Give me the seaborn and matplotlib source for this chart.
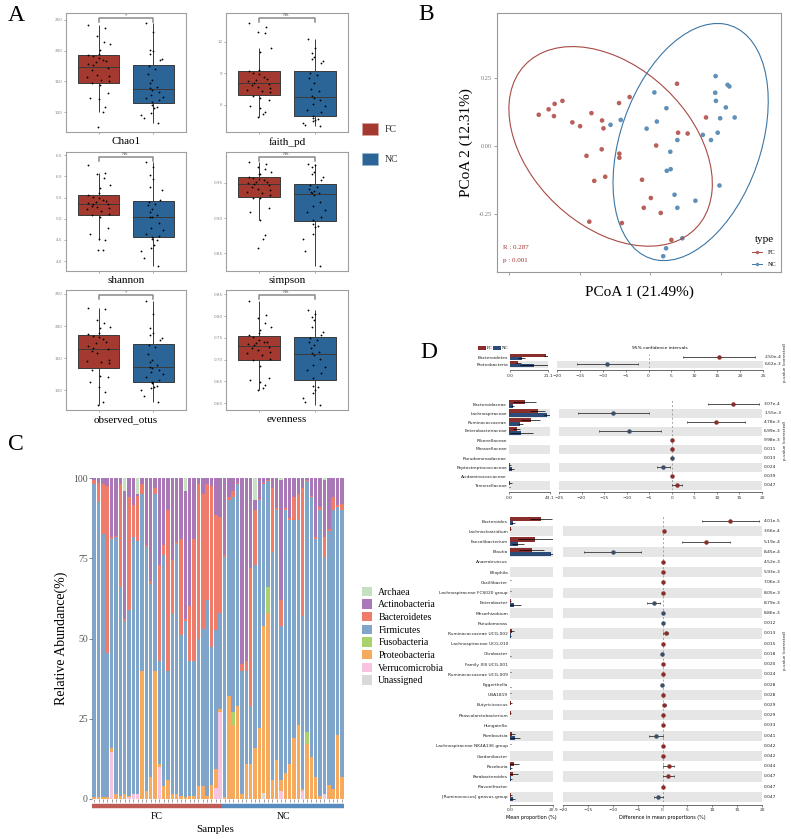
import numpy as np
import pandas as pd
import matplotlib
matplotlib.use("Agg")
import matplotlib.pyplot as plt
import seaborn as sns
from matplotlib.patches import Rectangle, Ellipse, Patch
from matplotlib.lines import Line2D
from matplotlib.ticker import FormatStrFormatter

W, H = 791, 839
SERIF = "Liberation Serif"
SANS = "DejaVu Sans"

chao1_fc = [240.9, 236.0, 223.1, 214.5, 210.8, 200.5, 195.2, 193.5, 191.4, 188.7, 185.5, 182.8, 181.7, 179.0, 176.3,
            172.0, 168.8, 160.2, 158.1, 156.5, 152.2, 150.0, 147.8, 144.1, 131.7, 123.7, 121.5, 109.1, 101.1, 76.9]
chao1_nc = [244.6, 230.1, 200.5, 199.5, 195.2, 187.1, 184.4, 174.7, 169.9, 161.8, 152.2, 146.8, 140.3, 138.7,
            136.0, 133.3, 128.0, 125.3, 122.6, 119.9, 117.2, 111.8, 109.1, 106.5, 98.4, 95.7, 90.3, 82.3]
faith_fc = [13.8, 13.42, 12.95, 12.79, 11.43, 11.05, 9.32, 9.26, 9.07, 8.94, 8.69, 8.44, 8.37, 8.28, 8.12,
            7.99, 7.90, 7.74, 7.58, 7.43, 7.36, 7.27, 6.86, 6.67, 6.48, 5.91, 5.69, 5.28, 5.15, 4.84]
faith_nc = [12.22, 11.43, 10.9, 10.58, 10.33, 10.17, 9.95, 9.0, 8.85, 8.53, 8.12, 7.49, 7.36, 6.86, 6.70, 6.48,
            6.07, 5.85, 5.53, 5.31, 4.97, 4.74, 4.65, 4.52, 4.43, 4.27, 4.11, 3.96]
shannon_fc = [6.28, 6.09, 6.07, 5.97, 5.79, 5.73, 5.62, 5.56, 5.52, 5.48, 5.44, 5.42, 5.39, 5.38, 5.36, 5.34, 5.31,
              5.28, 5.26, 5.23, 5.19, 5.12, 5.08, 5.05, 4.77, 4.63, 4.52, 4.50, 4.26, 4.25]
shannon_nc = [6.34, 6.22, 6.03, 5.93, 5.75, 5.67, 5.44, 5.40, 5.36, 5.32, 5.24, 5.16, 5.08, 5.05, 5.03, 4.89,
              4.77, 4.73, 4.65, 4.60, 4.57, 4.53, 4.50, 4.38, 4.30, 4.24, 4.06, 3.89]
simpson_fc = [0.980, 0.977, 0.973, 0.970, 0.966, 0.963, 0.962, 0.959, 0.957, 0.955, 0.954, 0.952, 0.951, 0.950,
              0.949, 0.947, 0.944, 0.942, 0.940, 0.937, 0.935, 0.933, 0.929, 0.928, 0.915, 0.909, 0.897, 0.876,
              0.871, 0.858]
simpson_nc = [0.977, 0.975, 0.972, 0.966, 0.963, 0.958, 0.954, 0.947, 0.944, 0.941, 0.938, 0.937, 0.936, 0.935,
              0.933, 0.923, 0.917, 0.911, 0.909, 0.902, 0.898, 0.892, 0.889, 0.887, 0.877, 0.871, 0.853, 0.832]
otus_fc = [228.7, 226.1, 209.5, 205.4, 199.1, 197.6, 189.8, 187.2, 184.6, 182.5, 179.4, 175.8, 173.2, 169.0, 165.4,
           163.9, 161.3, 158.7, 147.2, 146.2, 144.7, 143.1, 131.7, 122.3, 120.3, 113.5, 105.7, 98.0, 82.4, 77.2]
otus_nc = [239.6, 218.3, 196.5, 189.8, 186.2, 181.0, 178.4, 170.6, 168.0, 156.6, 147.3, 144.7, 139.5, 136.9, 134.3,
           131.7, 129.1, 124.9, 121.3, 116.1, 113.5, 110.9, 106.8, 104.7, 103.1, 100.5, 91.2, 81.3]
even_fc = [0.835, 0.802, 0.795, 0.785, 0.776, 0.769, 0.760, 0.756, 0.753, 0.746, 0.741, 0.740, 0.737, 0.735, 0.733,
           0.730, 0.726, 0.722, 0.718, 0.714, 0.710, 0.701, 0.699, 0.685, 0.658, 0.653, 0.648, 0.641, 0.634, 0.630]
even_nc = [0.814, 0.804, 0.799, 0.792, 0.776, 0.764, 0.756, 0.749, 0.745, 0.741, 0.733, 0.726, 0.718, 0.716, 0.710,
           0.701, 0.687, 0.682, 0.676, 0.668, 0.657, 0.639, 0.636, 0.630, 0.622, 0.611, 0.603, 0.595]

# ---------------- B: PCoA ----------------
fc_pc1 = [-0.316, -0.288, -0.271, -0.273, -0.249, -0.221, -0.199, -0.167, -0.137, -0.133, -0.181, -0.138, -0.159,
          -0.128, -0.089, -0.059, -0.088, -0.088, -0.081, -0.173, -0.024, -0.019, 0.001, 0.016, 0.029, 0.075, 0.078,
          0.105, 0.157, 0.059]
fc_pc2 = [0.115, 0.135, 0.155, 0.110, 0.166, 0.087, 0.073, 0.121, 0.094, 0.065, -0.036, -0.012, -0.128, -0.113,
          0.158, 0.180, -0.028, -0.043, -0.283, -0.278, -0.124, -0.227, -0.191, 0.002, -0.246, 0.229, 0.049, 0.046,
          0.105, -0.345]
nc_pc1 = [-0.113, -0.084, 0.011, -0.011, 0.018, 0.045, 0.056, 0.076, 0.046, 0.057, 0.068, 0.076, 0.127, 0.148, 0.171,
          0.190, 0.184, 0.183, 0.185, 0.213, 0.197, 0.238, 0.218, 0.223, 0.195, 0.090, 0.044, 0.036]
nc_pc2 = [0.078, 0.096, 0.197, 0.064, 0.090, 0.139, -0.021, 0.022, -0.091, -0.085, -0.179, -0.227, -0.201, 0.041,
          0.022, 0.049, 0.257, 0.196, 0.166, 0.142, 0.102, 0.105, 0.225, 0.219, -0.145, -0.339, -0.376, -0.405]

# ---------------- C: phylum composition, 30 FC + 28 NC samples ----------------
phyla = ["Archaea", "Actinobacteria", "Bacteroidetes", "Firmicutes", "Fusobacteria",
         "Proteobacteria", "Verrucomicrobia", "Unassigned"]
archaea = [0, 0, 0, 0, 0, 0, 0, 4, 0, 0, 5, 0, 0, 0, 0, 0, 0, 0, 0, 0, 0, 4, 0, 0, 0, 0, 0, 0, 0, 0,
           0, 0, 0, 0, 0, 0, 0, 7, 0, 0, 0, 0, 0, 0.5, 0, 0, 0, 0, 0, 0, 0, 0, 0, 0.5, 0, 0, 0, 0]
actinobacteria = [0.5, 1.5, 2, 2.5, 18.5, 18, 2, 40, 6, 8.5, 0.5, 2, 21, 32, 3, 27, 21, 10, 25.5, 20, 19, 40, 40,
                  19, 2, 5, 2, 2.5, 11.5, 12,
                  24, 6, 4, 1.5, 58, 57, 28, 3, 6.5, 1.5, 0.5, 3, 9.5, 37.5, 9.5, 12.5, 6, 5, 3, 0.5, 5.5, 18.5,
                  9, 18, 16, 6, 8.5, 8]
bacteroidetes = [1.5, 6, 15.5, 52, 0.5, 0.5, 32, 0.5, 35, 10, 14, 3, 0.5, 1, 2, 30, 3, 50, 17, 0.5, 30, 0.5, 17,
                 38, 48, 42, 36, 50, 36, 30,
                 0.5, 1, 2, 0.5, 2, 3, 43, 17, 0.5, 0.5, 0.5, 20, 0.5, 8, 0.5, 0.5, 7, 8, 40, 0.5, 0.5, 0.5, 1, 6,
                 0.5, 4, 0.5, 2]
firmicutes = [97.5, 92, 82, 45, 65, 80, 65, 54, 58, 80, 79, 55, 76, 60, 55, 32, 72, 34, 56, 78, 50, 55, 42, 42, 46,
              49, 61, 43, 43, 30,
              75, 61, 67, 69, 38.5, 29, 18, 57, 71, 44, 33, 71, 78, 48, 82, 76, 68, 64, 54, 78, 81, 74, 89, 74, 79,
              87, 71, 83]
fusobacteria = [0, 0, 0, 0, 0, 0, 0, 0, 0, 0, 0, 0, 0, 0, 0, 0, 0, 0, 0, 0, 0, 0, 0, 0, 0, 0, 0, 0, 0, 0,
                0, 0, 4, 0, 0, 0, 0, 0, 0, 0, 8, 0, 0, 0, 0, 0, 0, 0, 0, 4, 0, 0, 0, 0, 0, 0, 0, 0]
proteobacteria = [0.5, 0.5, 0.5, 0.5, 1.5, 1.5, 1, 1.5, 0.5, 0, 0, 40, 2.5, 7, 40, 1, 4, 6, 1.5, 1.5, 1, 0.5, 1, 1,
                  4, 4, 1, 4.5, 6, 1,
                  0.5, 32, 23, 29, 1.5, 11, 11, 16, 22, 52, 58, 6, 12, 3.5, 8, 11, 19, 23, 0.5, 17, 13, 7, 1, 0,
                  4.5, 3, 20, 7]
verrucomicrobia = [0, 0, 0, 0, 14.5, 0, 0, 0, 0.5, 1.5, 1.5, 0, 0, 0, 0, 10, 0, 0, 0, 0, 0, 0, 0, 0, 0, 0, 0, 0,
                   3.5, 27,
                   0, 0, 0, 0, 0, 0, 0, 0, 0, 0, 0, 0, 0, 2.5, 0, 0, 0, 0, 2.5, 0, 0, 0, 0, 1.5, 0, 0, 0, 0]
unassigned = [0, 0, 0, 0, 0, 0, 0, 0, 0, 0, 0, 0, 0, 0, 0, 0, 0, 0, 0, 0, 0, 0, 0, 0, 0, 0, 0, 0, 0, 0,
              0, 0, 0, 0, 0, 0, 0, 0, 0, 2, 0, 0, 0, 0, 0, 0, 0, 0, 0, 0, 0, 0, 0, 0, 0, 0, 0, 0]
n_fc, n_nc = 30, 28

# ---------------- D: STAMP extended error bars ----------------
phy_names = ["Bacteroidetes", "Proteobacteria"]
phy_fc = [19.9, 4.7]
phy_fc_sd = [1.2, 1.5]
phy_nc = [6.4, 13.3]
phy_nc_sd = [2.0, 7.8]
phy_diff = [15.4, -9.1]
phy_lo = [7.5, -15.7]
phy_hi = [23.3, -2.4]
phy_p = ["2.50e-4", "6.62e-3"]

fam_names = ["Bacteroidaceae", "Lachnospiraceae", "Ruminococcaceae", "Enterobacteriaceae", "Rikenellaceae",
             "Moraxellaceae", "Pseudomonadaceae", "Peptostreptococcaceae", "Acidaminococcaceae", "Tannerellaceae"]
fam_fc = [16.6, 30.2, 23.0, 8.0, 0.2, 0.1, 0.05, 1.0, 0.2, 1.2]
fam_fc_sd = [12.0, 8.0, 10.0, 4.0, 0.1, 0.1, 0.05, 0.8, 0.1, 1.5]
fam_nc = [4.0, 40.0, 12.0, 13.0, 0.05, 0.02, 0.1, 3.0, 0.05, 0.5]
fam_nc_sd = [1.5, 3.0, 3.0, 12.0, 0.05, 0.02, 0.1, 2.5, 0.05, 0.5]
fam_diff = [13.6, -13.0, 9.8, -9.4, 0.05, 0.05, -0.05, -1.85, 0.1, 1.1]
fam_lo = [8.1, -20.8, 3.3, -16.1, 0.0, 0.0, -0.1, -3.3, 0.0, 0.0]
fam_hi = [19.3, -5.1, 16.3, -2.5, 0.1, 0.1, 0.0, -0.3, 0.2, 2.2]
fam_p = ["3.07e-4", "1.55e-3", "4.78e-3", "6.99e-3", "9.98e-3", "0.011", "0.013", "0.024", "0.039", "0.047"]

gen_names = ["Bacteroides", "Lachnoclostridium", "Faecalibacterium", "Blautia", "Anaerotruncus", "Bilophila",
             "Oscillibacter", "Lachnospiraceae FCS020 group", "Enterobacter", "Mesorhizobium", "Pseudomonas",
             "Ruminococcaceae UCG-002", "Lachnospiraceae UCG-010", "Citrobacter", "Family XIII UCG-001",
             "Ruminococcaceae UCG-009", "Eggerthella", "UBA1819", "Butyricicoccus", "Phascolarctobacterium",
             "Hungatella", "Romboutsia", "Lachnospiraceae NK4A136 group", "Gordonibacter", "Roseburia",
             "Parabacteroides", "Flavonifractor", "[Ruminococcus] gnavus group"]
gen_fc = [15.0, 0.4, 12.2, 10.6, 0.1, 0.1, 0.2, 0.2, 0.3, 0.02, 0.02, 1.0, 0.1, 0.1, 0.1, 0.2, 0.05, 0.2, 0.5,
          0.3, 0.1, 1.2, 0.2, 0.05, 1.8, 1.7, 0.1, 0.4]
gen_fc_sd = [5.5, 0.3, 8.5, 6.0, 0.1, 0.1, 0.2, 0.2, 0.3, 0.02, 0.02, 0.8, 0.1, 0.1, 0.1, 0.2, 0.05, 0.2, 0.4,
             0.3, 0.1, 1.0, 0.2, 0.05, 2.5, 2.3, 0.1, 0.4]
gen_nc = [1.6, 0.1, 4.0, 20.1, 0.05, 0.05, 0.1, 0.1, 1.9, 0.05, 0.05, 0.4, 0.05, 0.2, 0.05, 0.1, 0.2, 0.1, 0.1,
          0.1, 0.05, 2.6, 0.05, 0.02, 0.5, 0.5, 0.05, 1.4]
gen_nc_sd = [1.0, 0.1, 3.0, 0.7, 0.05, 0.05, 0.1, 0.1, 3.3, 0.05, 0.05, 0.3, 0.05, 0.2, 0.05, 0.1, 0.2, 0.1, 0.1,
             0.1, 0.05, 2.5, 0.05, 0.02, 0.5, 0.5, 0.05, 1.2]
gen_diff = [13.6, 0.3, 8.8, -10.0, 0.05, 0.05, 0.1, 0.1, -1.8, 0.0, 0.0, 0.65, 0.05, -0.1, 0.05, 0.1, -0.2, 0.1,
            0.4, 0.2, 0.1, -1.35, 0.15, 0.05, 1.3, 1.2, 0.1, -0.9]
gen_lo = [7.9, 0.1, 4.0, -15.7, 0.0, 0.0, 0.0, 0.0, -3.2, -0.05, -0.05, 0.2, 0.0, -0.2, 0.0, 0.0, -0.35, 0.0, 0.1,
          0.05, 0.0, -2.7, 0.05, 0.0, 0.05, 0.05, 0.0, -1.8]
gen_hi = [19.3, 0.5, 13.5, -4.4, 0.1, 0.1, 0.2, 0.2, -0.6, 0.05, 0.05, 1.2, 0.1, 0.0, 0.1, 0.2, -0.05, 0.2, 0.7,
          0.35, 0.2, 0.0, 0.25, 0.1, 2.35, 2.3, 0.2, 0.0]
gen_p = ["4.01e-5", "3.66e-4", "5.19e-4", "8.45e-4", "4.52e-3", "5.93e-3", "7.06e-3", "8.05e-3", "8.79e-3",
         "8.86e-3", "0.012", "0.013", "0.015", "0.018", "0.020", "0.024", "0.028", "0.028", "0.029", "0.029",
         "0.033", "0.041", "0.042", "0.042", "0.044", "0.047", "0.047", "0.047"]

BOX_PAL = {"FC": "#A3392F", "NC": "#2B6496"}
PT_PAL = {"FC": "#B8615A", "NC": "#5E90BA"}
ELL_COL = {"FC": "#A84A43", "NC": "#3B76A5"}
PHY_COL = {"Archaea": "#C5E1C2", "Actinobacteria": "#AB78B7", "Bacteroidetes": "#EF7B6B",
           "Firmicutes": "#7FA6CA", "Fusobacteria": "#A9D16C", "Proteobacteria": "#F5AA5E",
           "Verrucomicrobia": "#F6C4DE", "Unassigned": "#D9D9D9"}
STAMP_PAL = {"FC": "#8A2E2C", "NC": "#2B4B78"}


def px(x0, y0, x1, y1):
    return [x0 / W, 1 - y1 / H, (x1 - x0) / W, (y1 - y0) / H]


def cov_trob(X, nu=5, iters=100):
    # multivariate-t robust location/scatter (as stat_ellipse uses)
    n, p = X.shape
    wt = np.ones(n)
    loc = X.mean(axis=0)
    for _ in range(iters):
        Xc = X - loc
        cov = (wt[:, None] * Xc).T @ Xc / n
        d2 = np.einsum("ij,jk,ik->i", Xc, np.linalg.inv(cov), Xc)
        wt = (nu + p) / (nu + d2)
        loc = (wt[:, None] * X).sum(axis=0) / wt.sum()
    Xc = X - loc
    cov = (wt[:, None] * Xc).T @ Xc / n
    return loc, cov


fig = plt.figure(figsize=(W / 100, H / 100), dpi=100)


# ---- panel A ----
def alpha_box(box, fc, nc, name, ylim, ticks, fmt, sig):
    ax = fig.add_axes(px(*box))
    df = pd.DataFrame({"group": ["FC"] * len(fc) + ["NC"] * len(nc), "value": fc + nc})
    sns.boxplot(data=df, x="group", y="value", hue="group", palette=BOX_PAL, width=0.76, saturation=1,
                linecolor="#3a3a3a", linewidth=0.7, showfliers=False, showcaps=False, legend=False, ax=ax)
    np.random.seed(7)
    sns.stripplot(data=df, x="group", y="value", color="black", size=1.3, jitter=0.22, ax=ax, zorder=3)
    ax.set_xlim(-0.594, 1.594)
    ax.set_ylim(*ylim)
    span = ylim[1] - ylim[0]
    yb = ylim[1] - 0.04 * span
    ax.plot([0, 0, 1, 1], [yb - 0.035 * span, yb, yb, yb - 0.035 * span], color="#8a8a8a", lw=1.1)
    ax.text(0.5, yb + 0.004 * span, sig, ha="center", va="bottom", fontsize=3.5, family=SERIF, color="#555")
    ax.set_yticks(ticks)
    ax.yaxis.set_major_formatter(FormatStrFormatter(fmt))
    ax.set_xticks([0, 1])
    ax.set_xticklabels([])
    ax.tick_params(labelsize=3, colors="#888", length=1.5, width=0.5, pad=1)
    ax.set_ylabel("")
    ax.set_xlabel(name, fontsize=8, family=SERIF, labelpad=1)
    for s in ax.spines.values():
        s.set_color("#a0a0a0")
        s.set_linewidth(0.8)


alpha_box((66, 13, 186, 132), chao1_fc, chao1_nc, "Chao1", (68.3, 260.8), [100, 150, 200, 250], "%d", "*")
alpha_box((226, 13, 348, 132), faith_fc, faith_nc, "faith_pd", (3.42, 14.74), [6, 9, 12], "%d", "NS.")
alpha_box((66, 152, 186, 271), shannon_fc, shannon_nc, "shannon", (3.764, 6.579),
          [4.0, 4.5, 5.0, 5.5, 6.0, 6.5], "%.1f", "NS.")
alpha_box((226, 152, 348, 271), simpson_fc, simpson_nc, "simpson", (0.825, 0.9939),
          [0.85, 0.90, 0.95], "%.2f", "NS.")
alpha_box((66, 290, 186, 410), otus_fc, otus_nc, "observed_otus", (69.4, 256.2), [100, 150, 200, 250], "%d", "*")
alpha_box((226, 290, 348, 410), even_fc, even_nc, "evenness", (0.584, 0.860),
          [0.60, 0.65, 0.70, 0.75, 0.80, 0.85], "%.2f", "NS.")

for (y0, grp) in [(123, "FC"), (153, "NC")]:
    fig.patches.append(Rectangle((362 / W, 1 - (y0 + 12) / H), 16 / W, 12 / H, transform=fig.transFigure,
                                 facecolor=BOX_PAL[grp], edgecolor="#d9a39e" if grp == "FC" else "#9ab7d1",
                                 lw=0.6))
    fig.text(385 / W, 1 - (y0 + 6) / H, grp, fontsize=7, family=SERIF, va="center", color="#333")

# ---- panel B ----
axB = fig.add_axes(px(497, 13, 781, 272))
dfB = pd.DataFrame({"pc1": fc_pc1 + nc_pc1, "pc2": fc_pc2 + nc_pc2,
                    "type": ["FC"] * len(fc_pc1) + ["NC"] * len(nc_pc1)})
sns.scatterplot(data=dfB, x="pc1", y="pc2", hue="type", palette=PT_PAL, s=11, linewidth=0, legend=False, ax=axB)
# 95% t-ellipses, scale sqrt(2 * F(0.95; 2, n-1))
for grp, r in [("FC", 2.580), ("NC", 2.590)]:
    sub = dfB[dfB["type"] == grp][["pc1", "pc2"]].to_numpy()
    mu, cov = cov_trob(sub)
    vals, vecs = np.linalg.eigh(cov)
    ang = np.degrees(np.arctan2(vecs[1, 1], vecs[0, 1]))
    axB.add_patch(Ellipse(mu, 2 * r * np.sqrt(vals[1]), 2 * r * np.sqrt(vals[0]), angle=ang,
                          fill=False, edgecolor=ELL_COL[grp], lw=0.8))
axB.set_xlim(-0.434, 0.369)
axB.set_ylim(-0.463, 0.489)
axB.set_xticks([-0.4, -0.2, 0.0, 0.2])
axB.set_xticklabels([])
axB.set_yticks([-0.25, 0.0, 0.25])
axB.set_yticklabels(["-0.25", "0.00", "0.25"], family=SERIF)
axB.tick_params(labelsize=4.5, colors="#777", length=2, width=0.5, pad=2)
axB.set_xlabel("PCoA 1 (21.49%)", fontsize=11, family=SERIF, labelpad=6)
axB.set_ylabel("PCoA 2 (12.31%)", fontsize=11, family=SERIF, labelpad=4)
for s in axB.spines.values():
    s.set_color("#999")
    s.set_linewidth(0.8)
axB.text(0.02, 0.09, "R : 0.287", transform=axB.transAxes, fontsize=5, family=SERIF, color="#A0342E")
axB.text(0.02, 0.04, "p : 0.001", transform=axB.transAxes, fontsize=5, family=SERIF, color="#A0342E")
handles = [Line2D([0], [0], color=ELL_COL[g], marker="o", ms=2.5, lw=0.7, markerfacecolor=PT_PAL[g],
                  markeredgewidth=0) for g in ["FC", "NC"]]
legB = axB.legend(handles, ["FC", "NC"], title="type", loc="lower right", frameon=False,
                  prop={"family": SERIF, "size": 4.5}, handlelength=1.6, borderaxespad=0.4, labelspacing=1.0)
legB.get_title().set_fontsize(8)
legB.get_title().set_family(SERIF)

# ---- panel C ----
axC = fig.add_axes(px(92, 478, 344, 799))
sample_ids = [f"FC{i + 1}" for i in range(n_fc)] + [f"NC{i + 1}" for i in range(n_nc)]
ab = np.array([archaea, actinobacteria, bacteroidetes, firmicutes, fusobacteria, proteobacteria,
               verrucomicrobia, unassigned], dtype=float)
ab = ab / ab.sum(axis=0) * 100
cum = np.cumsum(ab[::-1], axis=0)[::-1]  # top edge of each layer
for k, name in enumerate(phyla):
    sns.barplot(x=sample_ids, y=cum[k], order=sample_ids, color=PHY_COL[name], width=0.8, saturation=1,
                linewidth=0, errorbar=None, ax=axC)
axC.set_xlim(-0.5, len(sample_ids) - 0.5)
axC.set_ylim(0, 100)
axC.set_yticks([0, 25, 50, 75, 100])
axC.set_yticklabels(["0", "25", "50", "75", "100"], family=SERIF)
axC.set_xticks(range(len(sample_ids)))
axC.set_xticklabels([])
axC.tick_params(axis="y", labelsize=7, colors="#555", length=2, width=0.5, pad=1)
axC.tick_params(axis="x", colors="#555", length=2, width=0.4)
for s in axC.spines.values():
    s.set_visible(False)
axC.set_ylabel("Relative Abundance(%)", fontsize=10, family=SERIF, labelpad=4)
axC.set_xlabel("")
tr = axC.get_xaxis_transform()
axC.plot([-0.5, n_fc - 0.5], [-0.022, -0.022], transform=tr, color="#BE5B55", lw=3.2, clip_on=False,
         solid_capstyle="butt")
axC.plot([n_fc - 0.5, n_fc + n_nc - 0.5], [-0.022, -0.022], transform=tr, color="#5A8BBE", lw=3.2,
         clip_on=False, solid_capstyle="butt")
axC.text((n_fc - 1) / 2, -0.056, "FC", transform=tr, ha="center", va="center", fontsize=7, family=SERIF)
axC.text(n_fc + (n_nc - 1) / 2, -0.056, "NC", transform=tr, ha="center", va="center", fontsize=7, family=SERIF)
fig.text(215 / W, 1 - 829 / H, "Samples", ha="center", va="center", fontsize=8, family=SERIF)
fig.legend([Patch(facecolor=PHY_COL[p], edgecolor="none") for p in phyla], phyla, loc="center left",
           bbox_to_anchor=(353 / W, 1 - 636 / H), frameon=False, prop={"family": SERIF, "size": 7},
           handlelength=1.1, handleheight=1.1, handletextpad=0.6, labelspacing=0.28)


# ---- panel D ----
def stamp(names, fc, fc_sd, nc, nc_sd, diff, lo, hi, pvals, left, mid, y0, y1, lmax, mlim, ptxt_y,
          xlabels=False):
    n = len(names)
    rows = np.arange(n)
    axL = fig.add_axes(px(left[0], y0, left[1], y1))
    axM = fig.add_axes(px(mid[0], y0, mid[1], y1))
    for ax in (axL, axM):
        for i in range(1, n, 2):
            ax.axhspan(i - 0.5, i + 0.5, color="#e6e6e6", lw=0, zorder=0)
    df = pd.DataFrame({"name": names * 2, "group": ["FC"] * n + ["NC"] * n, "value": fc + nc})
    sns.barplot(data=df, y="name", x="value", hue="group", order=names, hue_order=["FC", "NC"],
                palette=STAMP_PAL, orient="h", width=0.8, saturation=1, errorbar=None, legend=False,
                linewidth=0, ax=axL)
    axL.errorbar(fc, rows - 0.2, xerr=fc_sd, fmt="none", ecolor="black", elinewidth=0.5, capsize=0)
    axL.errorbar(nc, rows + 0.2, xerr=nc_sd, fmt="none", ecolor="black", elinewidth=0.5, capsize=0)
    axL.set_xlim(0, lmax)
    axL.set_ylim(n - 0.5, -0.5)
    axL.set_xticks([0, lmax])
    axL.set_xticklabels(["0.0", f"{lmax:.1f}"])
    axL.set_xlabel("")
    axL.set_ylabel("")
    axL.tick_params(axis="y", length=0, pad=1.5, labelsize=3.2, colors="#222")
    axL.tick_params(axis="x", length=1.5, width=0.4, pad=1, labelsize=3.2, colors="#333")

    for i in range(n):
        col = STAMP_PAL["FC"] if diff[i] > 0 else "#3B5068"
        axM.errorbar(diff[i], i, xerr=[[diff[i] - lo[i]], [hi[i] - diff[i]]], fmt="o", ms=2.2, color=col,
                     ecolor="#333", elinewidth=0.6, capsize=1.0, capthick=0.5, zorder=3)
        axM.text(1.01, i, pvals[i], transform=axM.get_yaxis_transform(), fontsize=3.2, va="center",
                 color="#222")
    axM.axvline(0, ls=(0, (3, 3)), color="#888", lw=0.5, zorder=1)
    axM.set_xlim(*mlim)
    axM.set_xticks(np.arange(mlim[0], mlim[1] + 1, 5))
    axM.set_ylim(n - 0.5, -0.5)
    axM.set_yticks([])
    axM.tick_params(axis="x", length=1.5, width=0.4, pad=1, labelsize=3.2, colors="#333")
    for ax in (axL, axM):
        for side in ("top", "right", "left"):
            ax.spines[side].set_visible(False)
        ax.spines["bottom"].set_position(("outward", 2))
        ax.spines["bottom"].set_linewidth(0.5)
        ax.spines["bottom"].set_color("#333")
    fig.text(785 / W, 1 - ptxt_y / H, "p-value (corrected)", rotation=90, fontsize=3, ha="center",
             va="center", color="#222")
    if xlabels:
        axL.set_xlabel("Mean proportion (%)", fontsize=3.5, labelpad=2)
        axM.set_xlabel("Difference in mean proportions (%)", fontsize=3.5, labelpad=2)
    return axM


axP = stamp(phy_names, phy_fc, phy_fc_sd, phy_nc, phy_nc_sd, phy_diff, phy_lo, phy_hi, phy_p,
            (510, 548), (557, 763), 353.5, 367.5, 21.1, (-20, 25), 362)
axP.set_title("95% confidence intervals", fontsize=3.2, pad=3)
stamp(fam_names, fam_fc, fam_fc_sd, fam_nc, fam_nc_sd, fam_diff, fam_lo, fam_hi, fam_p,
      (509, 550), (559, 762), 399.5, 489.5, 43.1, (-25, 20), 440)
stamp(gen_names, gen_fc, gen_fc_sd, gen_nc, gen_nc_sd, gen_diff, gen_lo, gen_hi, gen_p,
      (510, 553), (563, 762), 516, 802, 20.9, (-20, 20), 650, xlabels=True)

for x0, grp in [(478, "FC"), (493, "NC")]:
    fig.patches.append(Rectangle((x0 / W, 1 - 350 / H), 8 / W, 4 / H, transform=fig.transFigure,
                                 facecolor=STAMP_PAL[grp], edgecolor="none"))
    fig.text((x0 + 9) / W, 1 - 348 / H, grp, fontsize=3.5, va="center", family=SERIF)

# panel letters
for lab, x, y in [("A", 8, 5), ("B", 418, 4), ("C", 8, 434), ("D", 420, 342)]:
    fig.text(x / W, 1 - y / H, lab, fontsize=17, family=SERIF, va="top", ha="left")

fig.savefig("out.png", dpi=100, facecolor="white")
